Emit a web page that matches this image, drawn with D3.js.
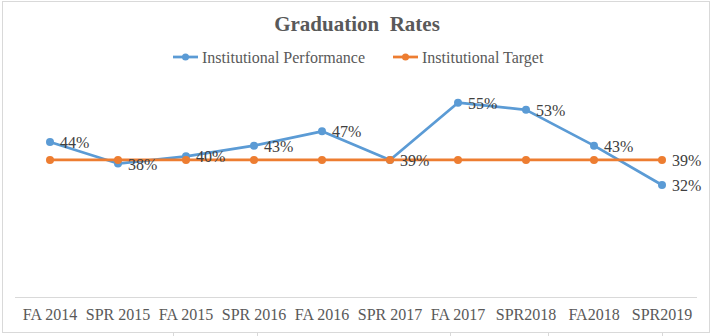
<!DOCTYPE html>
<html>
<head>
<meta charset="utf-8">
<script src="https://cdn.jsdelivr.net/npm/d3@7"></script>
<style>
  body { margin: 0; background: #fff; }
  svg { display: block; }
</style>
</head>
<body>
<svg id="chart" width="713" height="336"></svg>
<script>
// data
const terms = ["FA 2014", "SPR 2015", "FA 2015", "SPR 2016", "FA 2016",
               "SPR 2017", "FA 2017", "SPR2018", "FA2018", "SPR2019"];
const performance = [0.44, 0.38, 0.40, 0.43, 0.47, 0.39, 0.55, 0.53, 0.43, 0.32];
const target = [0.39, 0.39, 0.39, 0.39, 0.39, 0.39, 0.39, 0.39, 0.39, 0.39];

const blue = "#5B9BD5";
const orange = "#ED7D31";
const serif = "'Liberation Serif', 'Times New Roman', serif";

const svg = d3.select("#chart");

// chart frame
svg.append("rect")
  .attr("x", 2.5).attr("y", 1.5)
  .attr("width", 707).attr("height", 331)
  .attr("fill", "#fff")
  .attr("stroke", "#d9d9d9");

// spreadsheet cell lines peeking out below the chart
[173, 257, 450, 548, 662].forEach(x => {
  svg.append("line")
    .attr("x1", x + 0.5).attr("x2", x + 0.5)
    .attr("y1", 333).attr("y2", 336)
    .attr("stroke", "#d9d9d9");
});

const x = d3.scaleBand()
  .domain(terms)
  .range([16, 696]);

const y = d3.scaleLinear()
  .domain([0, 0.6])
  .range([299.5, 84.8]);

const cx = d => x(d) + x.bandwidth() / 2;

// title
svg.append("text")
  .attr("x", 357).attr("y", 31)
  .attr("text-anchor", "middle")
  .style("white-space", "pre")
  .style("font-family", serif)
  .style("font-weight", "bold")
  .style("font-size", "21px")
  .style("fill", "#595959")
  .text("Graduation  Rates");

// legend
const legend = [
  { name: "Institutional Performance", color: blue, x: 173 },
  { name: "Institutional Target", color: orange, x: 393 }
];
legend.forEach(l => {
  const g = svg.append("g").attr("transform", `translate(${l.x},57)`);
  g.append("line").attr("x1", 0).attr("x2", 25)
    .attr("stroke", l.color).attr("stroke-width", 2.75);
  g.append("circle").attr("cx", 12.5).attr("r", 3.5).attr("fill", l.color);
  g.append("text").attr("x", 29).attr("y", 5.5)
    .style("font-family", serif).style("font-size", "16px")
    .style("fill", "#595959")
    .text(l.name);
});

// x axis
svg.append("line")
  .attr("x1", 15).attr("x2", 697)
  .attr("y1", 297.5).attr("y2", 297.5)
  .attr("stroke", "#d9d9d9");

const xAxis = svg.append("g")
  .attr("transform", "translate(0,297)")
  .call(d3.axisBottom(x).tickSize(0).tickPadding(12));
xAxis.select(".domain").remove();
xAxis.selectAll("text")
  .style("font-family", serif)
  .style("font-size", "16px")
  .style("fill", "#595959");

const line = d3.line()
  .x((d, i) => cx(terms[i]))
  .y(d => y(d));

function drawSeries(values, color) {
  svg.append("path")
    .datum(values)
    .attr("fill", "none")
    .attr("stroke", color)
    .attr("stroke-width", 2.75)
    .attr("stroke-linejoin", "round")
    .attr("d", line);
  svg.append("g").selectAll("circle")
    .data(values)
    .join("circle")
    .attr("cx", (d, i) => cx(terms[i]))
    .attr("cy", d => y(d))
    .attr("r", 4)
    .attr("fill", color);
}

drawSeries(performance, blue);
drawSeries(target, orange);

// data labels
const fmt = d3.format(".0%");
svg.append("g").selectAll("text")
  .data(performance)
  .join("text")
  .attr("x", (d, i) => cx(terms[i]) + 10)
  .attr("y", d => y(d) + 6)
  .style("font-family", serif)
  .style("font-size", "16px")
  .style("fill", "#404040")
  .text(d => fmt(d));

const last = target.length - 1;
svg.append("text")
  .attr("x", cx(terms[last]) + 10)
  .attr("y", y(target[last]) + 6)
  .style("font-family", serif)
  .style("font-size", "16px")
  .style("fill", "#404040")
  .text(fmt(target[last]));
</script>
</body>
</html>
